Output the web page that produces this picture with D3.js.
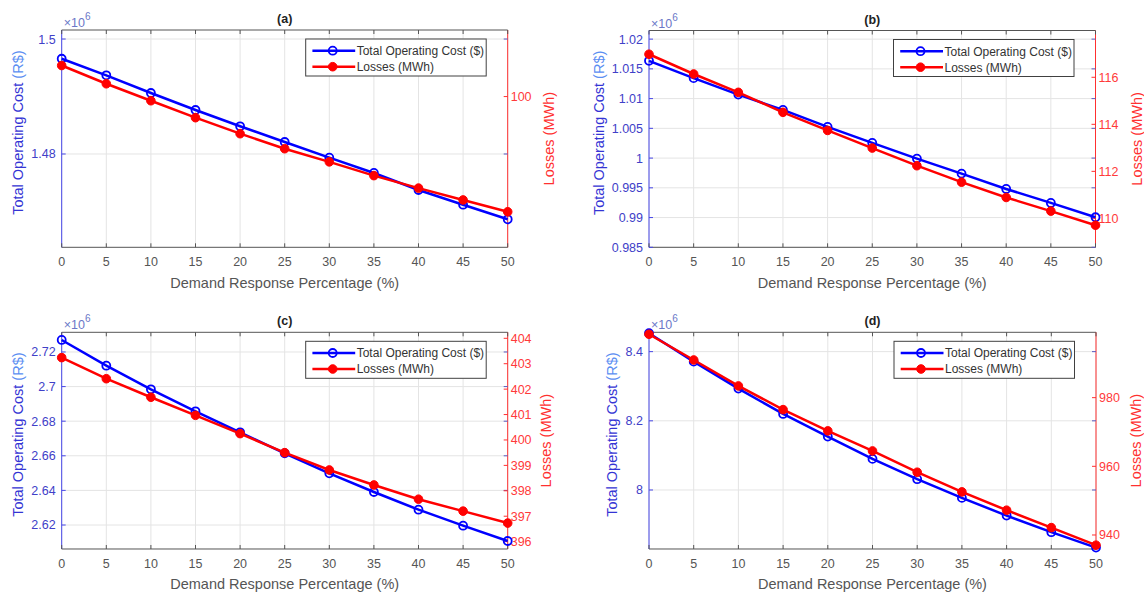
<!DOCTYPE html>
<html>
<head>
<meta charset="utf-8">
<script src="https://cdn.jsdelivr.net/npm/d3@7"></script>
<style>
  body { margin: 0; background: #fff; }
  svg { display: block; font-family: "Liberation Sans", Arial, Helvetica, sans-serif; }
</style>
</head>
<body>
<svg id="chart" width="1144" height="595"></svg>
<script>
// x axis: demand response share
const drPercent = [0, 5, 10, 15, 20, 25, 30, 35, 40, 45, 50];

// total operating cost, in units of 1e6
const costA = [1.49657, 1.49369, 1.49061, 1.48765, 1.48482, 1.48209, 1.47936, 1.4767, 1.47374, 1.47118, 1.46864];
const costB = [1.01635, 1.01344, 1.01068, 1.0081, 1.00524, 1.00255, 0.99991, 0.99739, 0.99481, 0.99246, 0.99005];
const costC = [2.72694, 2.71208, 2.69844, 2.68572, 2.67358, 2.66145, 2.64988, 2.63908, 2.62884, 2.6196, 2.61075];
const costD = [8.4532, 8.3711, 8.2931, 8.2199, 8.1543, 8.0899, 8.0312, 7.9772, 7.926, 7.878, 7.8335];

// losses (MWh)
const lossA = [100.97, 100.40, 99.87, 99.34, 98.84, 98.37, 97.96, 97.53, 97.14, 96.77, 96.40];
const lossB = [116.98, 116.14, 115.36, 114.51, 113.74, 112.99, 112.24, 111.54, 110.89, 110.31, 109.71];
const lossC = [403.24, 402.41, 401.68, 400.97, 400.25, 399.5, 398.82, 398.23, 397.67, 397.2, 396.73];
const lossD = [998.46, 990.97, 983.41, 976.51, 970.31, 964.48, 958.28, 952.55, 947.22, 942.15, 937.03];

// axis limits and ticks
const costLimA = [1.46377, 1.50157], costTicksA = [1.48, 1.5];
const costLimB = [0.985, 1.02145], costTicksB = [0.985, 0.99, 0.995, 1, 1.005, 1.01, 1.015, 1.02];
const costLimC = [2.60613, 2.73137], costTicksC = [2.62, 2.64, 2.66, 2.68, 2.7, 2.72];
const costLimD = [7.8294, 8.4559], costTicksD = [8, 8.2, 8.4];
const lossLimA = [95.29, 102.08], lossTicksA = [100];
const lossLimB = [108.77, 117.99], lossTicksB = [110, 112, 114, 116];
const lossLimC = [395.71, 404.236], lossTicksC = [396, 397, 398, 399, 400, 401, 402, 403, 404];
const lossLimD = [935.92, 999.03], lossTicksD = [940, 960, 980];

const panelTitles = ["(a)", "(b)", "(c)", "(d)"];
const seriesNames = ["Total Operating Cost ($)", "Losses (MWh)"];

const blue = "#0000ff";
const red = "#ff0000";

const panels = [
  { title: panelTitles[0], cost: costA, loss: lossA, costLim: costLimA, lossLim: lossLimA, costTicks: costTicksA, lossTicks: lossTicksA, x: 61.7, y: 30, w: 446, h: 217.3, leftLab: 44, rightLab: 41 },
  { title: panelTitles[1], cost: costB, loss: lossB, costLim: costLimB, lossLim: lossLimB, costTicks: costTicksB, lossTicks: lossTicksB, x: 649, y: 30.5, w: 446.5, h: 216.8, leftLab: 50, rightLab: 41 },
  { title: panelTitles[2], cost: costC, loss: lossC, costLim: costLimC, lossLim: lossLimC, costTicks: costTicksC, lossTicks: lossTicksC, x: 61.7, y: 332.3, w: 446, h: 216.7, leftLab: 44, rightLab: 38 },
  { title: panelTitles[3], cost: costD, loss: lossD, costLim: costLimD, lossLim: lossLimD, costTicks: costTicksD, lossTicks: lossTicksD, x: 649, y: 332.3, w: 447, h: 216.7, leftLab: 37, rightLab: 40 }
];

const svg = d3.select("#chart");
panels.forEach(drawPanel);

function drawPanel(p) {
  const g = svg.append("g").attr("transform", `translate(${p.x},${p.y})`);
  const x = d3.scaleLinear().domain([0, 50]).range([0, p.w]);
  const yL = d3.scaleLinear().domain(p.costLim).range([p.h, 0]);
  const yR = d3.scaleLinear().domain(p.lossLim).range([p.h, 0]);

  // grid
  g.append("g").selectAll("line")
    .data(drPercent)
    .join("line")
    .attr("x1", d => x(d)).attr("x2", d => x(d))
    .attr("y1", 0).attr("y2", p.h)
    .attr("stroke", "#e4e4e4");
  g.append("g").selectAll("line")
    .data(p.costTicks)
    .join("line")
    .attr("x1", 0).attr("x2", p.w)
    .attr("y1", d => yL(d)).attr("y2", d => yL(d))
    .attr("stroke", "#e4e4e4");

  // frame
  g.append("line").attr("x1", 0).attr("x2", p.w).attr("y1", 0).attr("y2", 0).attr("stroke", "#555");
  g.append("line").attr("x1", 0).attr("x2", p.w).attr("y1", p.h).attr("y2", p.h).attr("stroke", "#555");
  g.append("line").attr("x1", 0).attr("x2", 0).attr("y1", 0).attr("y2", p.h).attr("stroke", "#4848e8");
  g.append("line").attr("x1", p.w).attr("x2", p.w).attr("y1", 0).attr("y2", p.h).attr("stroke", "#ff3030");

  // x ticks (inward, top and bottom)
  const xt = g.append("g");
  xt.selectAll(".tb").data(drPercent).join("line")
    .attr("x1", d => x(d)).attr("x2", d => x(d)).attr("y1", p.h).attr("y2", p.h - 4).attr("stroke", "#555");
  xt.selectAll(".tt").data(drPercent).join("line")
    .attr("x1", d => x(d)).attr("x2", d => x(d)).attr("y1", 0).attr("y2", 4).attr("stroke", "#555");
  g.append("g").selectAll("text")
    .data(drPercent)
    .join("text")
    .attr("x", d => x(d))
    .attr("y", p.h + 19)
    .attr("text-anchor", "middle")
    .attr("font-size", 12.5)
    .attr("fill", "#555")
    .text(d => d);

  // left ticks
  const lt = g.append("g");
  lt.selectAll(".l").data(p.costTicks).join("line")
    .attr("x1", 0).attr("x2", 4).attr("y1", d => yL(d)).attr("y2", d => yL(d)).attr("stroke", "#4848e8");
  lt.selectAll(".r").data(p.costTicks).join("line")
    .attr("x1", p.w - 4).attr("x2", p.w).attr("y1", d => yL(d)).attr("y2", d => yL(d)).attr("stroke", "#5a5ac0");
  g.append("g").selectAll("text")
    .data(p.costTicks)
    .join("text")
    .attr("x", -6)
    .attr("y", d => yL(d) + 4.5)
    .attr("text-anchor", "end")
    .attr("font-size", 12.5)
    .attr("fill", "#4040c8")
    .text(d => d3.format("~g")(d));

  // right ticks
  g.append("g").selectAll("line")
    .data(p.lossTicks)
    .join("line")
    .attr("x1", p.w - 4).attr("x2", p.w)
    .attr("y1", d => yR(d)).attr("y2", d => yR(d))
    .attr("stroke", "#ff3030");
  g.append("g").selectAll("text")
    .data(p.lossTicks)
    .join("text")
    .attr("x", p.w + 3)
    .attr("y", d => yR(d) + 4.5)
    .attr("font-size", 12.5)
    .attr("fill", "#ff3a3a")
    .text(d => d);

  // exponent
  const ex = g.append("text")
    .attr("x", 2)
    .attr("y", -3)
    .attr("font-size", 12.5)
    .attr("fill", "#6b78c8");
  ex.append("tspan").text("×10");
  ex.append("tspan").attr("dy", -7).attr("font-size", 10).text("6");

  // title and labels
  g.append("text")
    .attr("x", p.w / 2)
    .attr("y", -7)
    .attr("text-anchor", "middle")
    .attr("font-size", 12.5)
    .attr("font-weight", "bold")
    .attr("fill", "#222")
    .text(p.title);

  g.append("text")
    .attr("x", p.w / 2)
    .attr("y", p.h + 40.5)
    .attr("text-anchor", "middle")
    .attr("font-size", 14.5)
    .attr("fill", "#555")
    .text("Demand Response Percentage (%)");

  const yl = g.append("text")
    .attr("transform", `translate(${-p.leftLab},${p.h / 2 - 6}) rotate(-90)`)
    .attr("text-anchor", "middle")
    .attr("dy", "0.35em")
    .attr("font-size", 14.5);
  yl.append("tspan").attr("fill", "#3434d4").text("Total Operating Cost ");
  yl.append("tspan").attr("fill", "#5b8ef2").text("(R$)");

  g.append("text")
    .attr("transform", `translate(${p.w + p.rightLab},${p.h / 2}) rotate(-90)`)
    .attr("text-anchor", "middle")
    .attr("dy", "0.35em")
    .attr("font-size", 14.5)
    .attr("fill", "#ff3030")
    .text("Losses (MWh)");

  // series
  const costLine = d3.line().x((d, i) => x(drPercent[i])).y(d => yL(d));
  const lossLine = d3.line().x((d, i) => x(drPercent[i])).y(d => yR(d));

  g.append("path")
    .attr("d", costLine(p.cost))
    .attr("fill", "none")
    .attr("stroke", blue)
    .attr("stroke-width", 2.5);
  g.append("g").selectAll("circle")
    .data(p.cost)
    .join("circle")
    .attr("cx", (d, i) => x(drPercent[i]))
    .attr("cy", d => yL(d))
    .attr("r", 4)
    .attr("fill", "none")
    .attr("stroke", blue)
    .attr("stroke-width", 1.8);

  g.append("path")
    .attr("d", lossLine(p.loss))
    .attr("fill", "none")
    .attr("stroke", red)
    .attr("stroke-width", 2.5);
  g.append("g").selectAll("circle")
    .data(p.loss)
    .join("circle")
    .attr("cx", (d, i) => x(drPercent[i]))
    .attr("cy", d => yR(d))
    .attr("r", 4.3)
    .attr("fill", red)
    .attr("stroke", red)
    .attr("stroke-width", 1);

  // legend
  const lg = g.append("g").attr("transform", `translate(${p.w - 21.5 - 180.5},9)`);
  lg.append("rect")
    .attr("width", 180.5)
    .attr("height", 37)
    .attr("fill", "#fff")
    .attr("stroke", "#404040")
    .attr("stroke-width", 1);
  const items = lg.selectAll(".item")
    .data(seriesNames)
    .join("g")
    .attr("transform", (d, i) => `translate(0,${11.7 + i * 16})`);
  items.append("line")
    .attr("x1", 6.7).attr("x2", 49.5)
    .attr("stroke", (d, i) => i ? red : blue)
    .attr("stroke-width", 2.5);
  items.append("circle")
    .attr("cx", 27)
    .attr("r", (d, i) => i ? 4.3 : 4)
    .attr("fill", (d, i) => i ? red : "none")
    .attr("stroke", (d, i) => i ? red : blue)
    .attr("stroke-width", (d, i) => i ? 1 : 1.8);
  items.append("text")
    .attr("x", 51)
    .attr("dy", "0.36em")
    .attr("font-size", 12)
    .attr("fill", "#333")
    .text(d => d);
}
</script>
</body>
</html>
